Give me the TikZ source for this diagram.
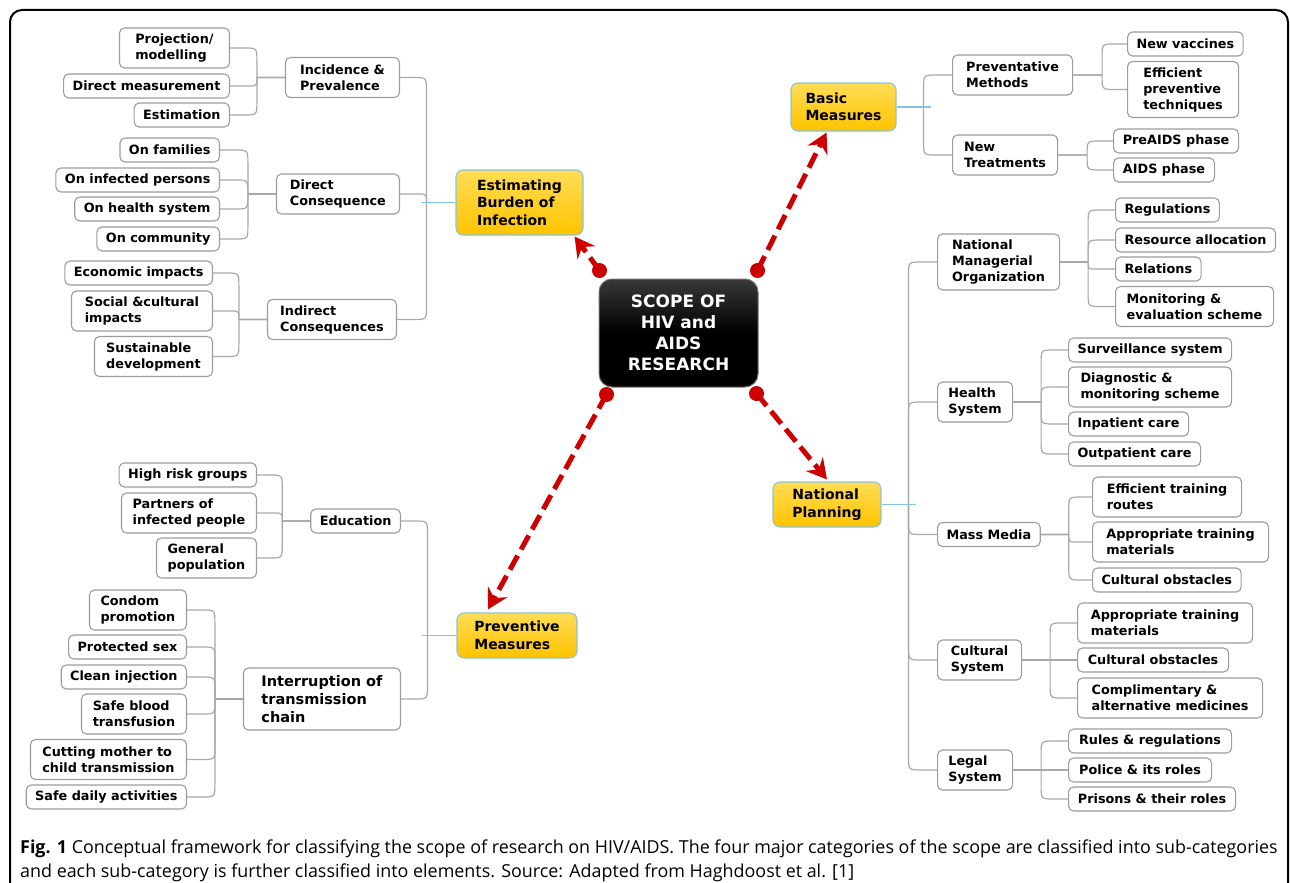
\documentclass[tikz,border=0pt]{standalone}
\usepackage{fontspec}
\setmainfont{DejaVu Sans}
\newfontfamily\capfont{Open Sans}
\usepackage{tikz}
\usetikzlibrary{arrows.meta,calc}

\definecolor{arrowred}{HTML}{CC0000}
\definecolor{catTop}{HTML}{FFDD55}
\definecolor{catBot}{HTML}{FFC300}
\definecolor{catborder}{HTML}{8CC4D4}
\definecolor{boxgray}{HTML}{9C9C9C}
\definecolor{linkgray}{HTML}{A8A8A8}
\definecolor{linkblue}{HTML}{80C4E8}

\newcommand{\leaffont}{\bfseries\fontsize{12.8}{16}\selectfont}
\newcommand{\catfont}{\bfseries\fontsize{14}{17.5}\selectfont}
\newcommand{\hubfont}{\bfseries\fontsize{17}{21}\selectfont}

\tikzset{
  leaf/.style={draw=boxgray, line width=1.1pt, rounded corners=5pt, fill=white,
    font=\leaffont, align=left, inner xsep=9pt, inner ysep=5.5pt, minimum height=24pt},
  twoline/.style={minimum height=40pt},
  threeline/.style={minimum height=56pt},
  category/.style={draw=catborder, line width=1.1pt, rounded corners=7pt,
    top color=catTop, bottom color=catBot, font=\catfont, align=left},
  hub/.style={draw=black!55, line width=1pt, rounded corners=13pt, top color=black!78,
    bottom color=black, middle color=black, text=white, font=\hubfont, align=center,
    minimum width=159pt, minimum height=108pt},
  link/.style={draw=linkgray, line width=1.2pt},
  bluelink/.style={draw=linkblue, line width=1.2pt},
  bigarrow/.style={draw=arrowred, line width=5pt, dash pattern=on 16pt off 7pt,
    -{Stealth[length=20pt,width=22pt,inset=7pt]}},
  % bend into a trunk lying to the right / to the left of the start
  branchr/.style={to path={let \p1=(\tikztostart), \p2=(\tikztotarget),
    \n1={min(13,abs(\y2-\y1))}, \n2={sign(\y2-\y1)} in
    -- (\x2-\n1,\y1) .. controls (\x2,\y1) .. (\x2,\y1+\n2*\n1) -- (\p2)}},
  branchl/.style={to path={let \p1=(\tikztostart), \p2=(\tikztotarget),
    \n1={min(13,abs(\y2-\y1))}, \n2={sign(\y2-\y1)} in
    -- (\x2+\n1,\y1) .. controls (\x2,\y1) .. (\x2,\y1+\n2*\n1) -- (\p2)}},
}

\begin{document}
\begin{tikzpicture}[x=1pt,y=-1pt]
  \def\T{28} % trunk distance, sub-categories
  \def\M{29} % trunk distance, categories
  \useasboundingbox (0,0) rectangle (1290,883);

  % frame
  \begin{scope}
    \clip (0,0) rectangle (1290,883);
    \draw[line width=2pt, rounded corners=12pt] (10,10) rectangle (1288,910);
  \end{scope}

  % centre
  \node[hub] (scope) at (678.5,333) {SCOPE OF\\HIV and\\AIDS\\RESEARCH};

  % categories
  \node[category, minimum width=127pt, minimum height=65pt] (burden) at (519.5,202.5) {Estimating\\Burden of\\Infection};
  \node[category, minimum width=105pt, minimum height=48pt] (basic) at (843.5,107) {Basic\\Measures};
  \node[category, minimum width=108pt, minimum height=45pt] (planning) at (827,504.5) {National\\Planning};
  \node[category, minimum width=120pt, minimum height=45pt] (preventive) at (517,635.5) {Preventive\\Measures};

  % estimating burden of infection
  \node[leaf, twoline, anchor=east, minimum width=114pt] (incidence) at (400,77.5) {Incidence \&\\Prevalence};
  \node[leaf, twoline, anchor=east, minimum width=123pt] (direct) at (400,194) {Direct\\Consequence};
  \node[leaf, twoline, anchor=east, minimum width=129pt] (indirect) at (397,319.5) {Indirect\\Consequences};

  \node[leaf, twoline, anchor=east, minimum width=110pt] (projection) at (230,48) {Projection/\\modelling};
  \node[leaf, anchor=east, minimum width=165pt] (directm) at (230,86) {Direct measurement};
  \node[leaf, anchor=east, minimum width=94pt] (estimation) at (230,115) {Estimation};

  \node[leaf, anchor=east, minimum width=97pt] (families) at (220,150) {On families};
  \node[leaf, anchor=east, minimum width=162pt] (persons) at (220,180) {On infected persons};
  \node[leaf, anchor=east, minimum width=143pt] (healthsys) at (220,209) {On health system};
  \node[leaf, anchor=east, minimum width=121pt] (community) at (220,239) {On community};

  \node[leaf, anchor=east, minimum width=147pt] (economic) at (213,273) {Economic impacts};
  \node[leaf, twoline, anchor=east, minimum width=141pt] (social) at (213,311) {Social \&cultural\\impacts};
  \node[leaf, twoline, anchor=east, minimum width=118pt] (sustainable) at (213,356.5) {Sustainable\\development};

  % preventive measures
  \node[leaf, anchor=east, minimum width=89pt] (education) at (401,521) {Education};
  \node[leaf, anchor=east, minimum width=157pt, minimum height=62pt,
    font=\bfseries\fontsize{14.5}{18}\selectfont] (interruption) at (401,699) {Interruption of\\transmission\\chain};

  \node[leaf, anchor=east, minimum width=136pt] (highrisk) at (257,475) {High risk groups};
  \node[leaf, twoline, anchor=east, minimum width=135pt] (partners) at (257,513) {Partners of\\infected people};
  \node[leaf, twoline, anchor=east, minimum width=100pt] (general) at (257,558) {General\\population};

  \node[leaf, twoline, anchor=east, minimum width=97pt] (condom) at (187,610) {Condom\\promotion};
  \node[leaf, anchor=east, minimum width=115pt] (protected) at (187,647) {Protected sex};
  \node[leaf, anchor=east, minimum width=124pt] (clean) at (187,677) {Clean injection};
  \node[leaf, twoline, anchor=east, minimum width=105pt] (blood) at (187,714) {Safe blood\\transfusion};
  \node[leaf, twoline, anchor=east, minimum width=156pt] (mother) at (187,759.5) {Cutting mother to\\child transmission};
  \node[leaf, anchor=east, minimum width=158pt] (daily) at (187,797) {Safe daily activities};

  % basic measures
  \node[leaf, twoline, anchor=west, minimum width=120pt] (methods) at (952,75) {Preventative\\Methods};
  \node[leaf, twoline, anchor=west, minimum width=105pt] (treatments) at (952,155) {New\\Treatments};

  \node[leaf, anchor=west, minimum width=115pt] (vaccines) at (1127,44) {New vaccines};
  \node[leaf, threeline, anchor=west, minimum width=111pt] (techniques) at (1127,89.5) {Efficient\\preventive\\techniques};
  \node[leaf, anchor=west, minimum width=125pt] (preaids) at (1113,141) {PreAIDS phase};
  \node[leaf, anchor=west, minimum width=101pt] (aids) at (1113,170) {AIDS phase};

  % national planning
  \node[leaf, threeline, anchor=west, minimum width=122pt] (managerial) at (937,262) {National\\Managerial\\Organization};
  \node[leaf, twoline, anchor=west, minimum width=75pt] (healthsystem) at (937,402) {Health\\System};
  \node[leaf, anchor=west, minimum width=99pt] (massmedia) at (937,534.5) {Mass Media};
  \node[leaf, twoline, anchor=west, minimum width=84pt] (cultural) at (937,660) {Cultural\\System};
  \node[leaf, twoline, anchor=west, minimum width=75pt] (legal) at (937,770) {Legal\\System};

  \node[leaf, anchor=west, minimum width=102pt] (regulations) at (1115,210) {Regulations};
  \node[leaf, anchor=west, minimum width=158pt] (resource) at (1115,240) {Resource allocation};
  \node[leaf, anchor=west, minimum width=84pt] (relations) at (1115,269) {Relations};
  \node[leaf, twoline, anchor=west, minimum width=158pt] (monitoring) at (1115,306.5) {Monitoring \&\\evaluation scheme};

  \node[leaf, anchor=west, minimum width=162pt] (surveillance) at (1068,350) {Surveillance system};
  \node[leaf, twoline, anchor=west, minimum width=163pt] (diagnostic) at (1068,387) {Diagnostic \&\\monitoring scheme};
  \node[leaf, anchor=west, minimum width=120pt] (inpatient) at (1068,424) {Inpatient care};
  \node[leaf, anchor=west, minimum width=130pt] (outpatient) at (1068,454) {Outpatient care};

  \node[leaf, twoline, anchor=west, minimum width=149pt] (routes) at (1092,497) {Efficient training\\routes};
  \node[leaf, twoline, anchor=west, minimum width=176pt] (materials) at (1092,542) {Appropriate training\\materials};
  \node[leaf, anchor=west, minimum width=148pt] (obstacles) at (1092,580) {Cultural obstacles};

  \node[leaf, twoline, anchor=west, minimum width=175pt] (materialsb) at (1077,623) {Appropriate training\\materials};
  \node[leaf, anchor=west, minimum width=151pt] (obstaclesb) at (1077,660) {Cultural obstacles};
  \node[leaf, twoline, anchor=west, minimum width=185pt] (medicines) at (1077,698) {Complimentary \&\\alternative medicines};

  \node[leaf, anchor=west, minimum width=163pt] (rules) at (1068,741) {Rules \& regulations};
  \node[leaf, anchor=west, minimum width=143pt] (police) at (1068,770) {Police \& its roles};
  \node[leaf, anchor=west, minimum width=167pt] (prisons) at (1068,799) {Prisons \& their roles};

  % links, left side
  \foreach \c in {projection,directm,estimation}
    \draw[link] (\c.east) to[branchr] ($(incidence.west)+(-\T,0)$) -- (incidence.west);
  \foreach \c in {families,persons,healthsys,community}
    \draw[link] (\c.east) to[branchr] ($(direct.west)+(-\T,0)$) -- (direct.west);
  \foreach \c in {economic,social,sustainable}
    \draw[link] (\c.east) to[branchr] ($(indirect.west)+(-\T,0)$) -- (indirect.west);
  \foreach \c in {highrisk,partners,general}
    \draw[link] (\c.east) to[branchr] ($(education.west)+(-\T,0)$) -- (education.west);
  \foreach \c in {condom,protected,clean,blood,mother,daily}
    \draw[link] (\c.east) to[branchr] ($(interruption.west)+(-\T,0)$) -- (interruption.west);
  \foreach \c in {incidence,direct,indirect}
    \draw[link] (\c.east) to[branchr] ($(burden.west)+(-\M,0)$);
  \foreach \c in {education,interruption}
    \draw[link] (\c.east) to[branchr] ($(preventive.west)+(-\M,0)$);
  \draw[bluelink] (burden.west) -- ($(burden.west)+(-34,0)$);
  \draw[bluelink] (preventive.west) -- ($(preventive.west)+(-34,0)$);

  % links, right side
  \foreach \c in {vaccines,techniques}
    \draw[link] (\c.west) to[branchl] ($(methods.east)+(\M,0)$) -- (methods.east);
  \foreach \c in {preaids,aids}
    \draw[link] (\c.west) to[branchl] ($(treatments.east)+(\M,0)$) -- (treatments.east);
  \foreach \c in {regulations,resource,relations,monitoring}
    \draw[link] (\c.west) to[branchl] ($(managerial.east)+(\T,0)$) -- (managerial.east);
  \foreach \c in {surveillance,diagnostic,inpatient,outpatient}
    \draw[link] (\c.west) to[branchl] ($(healthsystem.east)+(\T,0)$) -- (healthsystem.east);
  \foreach \c in {routes,materials,obstacles}
    \draw[link] (\c.west) to[branchl] ($(massmedia.east)+(\T,0)$) -- (massmedia.east);
  \foreach \c in {materialsb,obstaclesb,medicines}
    \draw[link] (\c.west) to[branchl] ($(cultural.east)+(\T,0)$) -- (cultural.east);
  \foreach \c in {rules,police,prisons}
    \draw[link] (\c.west) to[branchl] ($(legal.east)+(\T,0)$) -- (legal.east);
  \foreach \c in {methods,treatments}
    \draw[link] (\c.west) to[branchl] ($(basic.east)+(27,0)$);
  \foreach \c in {managerial,healthsystem,massmedia,cultural,legal}
    \draw[link] (\c.west) to[branchl] ($(planning.east)+(27,0)$);
  \draw[bluelink] (basic.east) -- ($(basic.east)+(34,0)$);
  \draw[bluelink] (planning.east) -- ($(planning.east)+(34,0)$);

  % red arrows from the centre
  \coordinate (d1) at ($(scope.north west)+(1,-8)$);
  \coordinate (d2) at ($(scope.north east)+(-1,-8)$);
  \coordinate (d3) at ($(scope.south east)+(-2,6)$);
  \coordinate (d4) at ($(scope.south west)+(8,7)$);
  \draw[bigarrow] (d1) -- ($(burden.south east)+(-9,1)$);
  \draw[bigarrow] (d2) -- ($(basic.south)+(-17,1)$);
  \draw[bigarrow] (d3) -- ($(planning.north)+(0,-2)$);
  \draw[bigarrow] (d4) -- ($(preventive.north)+(-29,-3)$);
  \foreach \d in {d1,d2,d3,d4}
    \fill[arrowred] (\d) circle[radius=7.5pt];

  % caption
  \node[anchor=base west, inner sep=0, font=\capfont\fontsize{17.9}{24}\selectfont] (cap1) at (20,853)
    {\textbf{Fig. 1} Conceptual framework for classifying the scope of research on HIV/AIDS. The four major categories of the scope are classified into sub-categories};
  \node[anchor=base west, inner sep=0, font=\capfont\fontsize{17.9}{24}\selectfont] (cap2) at (20,877)
    {and each sub-category is further classified into elements. Source: Adapted from Haghdoost et al. [1]};
\end{tikzpicture}
\end{document}
